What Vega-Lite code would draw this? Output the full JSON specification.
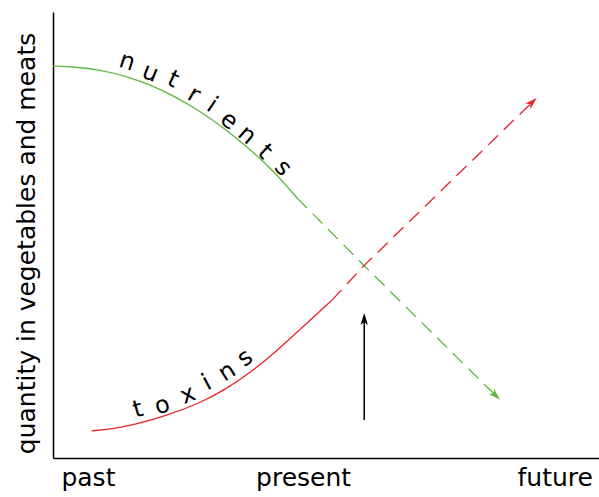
{
  "$schema": "https://vega.github.io/schema/vega-lite/v6.json",
  "width": 546,
  "height": 446,
  "autosize": {"type": "none"},
  "padding": {"left": 53, "top": 12, "right": 0, "bottom": 39},
  "config": {"view": {"stroke": null}, "font": "DejaVu Sans"},
  "datasets": {
    "curves": [
      {"curve": "nutrients", "part": "solid", "i": 0, "x": 0.00, "y": 8.79},
      {"curve": "nutrients", "part": "solid", "i": 1, "x": 0.40, "y": 8.77},
      {"curve": "nutrients", "part": "solid", "i": 2, "x": 0.86, "y": 8.70},
      {"curve": "nutrients", "part": "solid", "i": 3, "x": 1.32, "y": 8.57},
      {"curve": "nutrients", "part": "solid", "i": 4, "x": 1.78, "y": 8.37},
      {"curve": "nutrients", "part": "solid", "i": 5, "x": 2.23, "y": 8.11},
      {"curve": "nutrients", "part": "solid", "i": 6, "x": 2.69, "y": 7.78},
      {"curve": "nutrients", "part": "solid", "i": 7, "x": 3.15, "y": 7.38},
      {"curve": "nutrients", "part": "solid", "i": 8, "x": 3.61, "y": 6.92},
      {"curve": "nutrients", "part": "solid", "i": 9, "x": 4.07, "y": 6.40},
      {"curve": "nutrients", "part": "solid", "i": 10, "x": 4.47, "y": 5.83},
      {"curve": "toxins", "part": "solid", "i": 0, "x": 0.71, "y": 0.61},
      {"curve": "toxins", "part": "solid", "i": 1, "x": 1.08, "y": 0.65},
      {"curve": "toxins", "part": "solid", "i": 2, "x": 1.47, "y": 0.74},
      {"curve": "toxins", "part": "solid", "i": 3, "x": 2.08, "y": 0.95},
      {"curve": "toxins", "part": "solid", "i": 4, "x": 2.69, "y": 1.23},
      {"curve": "toxins", "part": "solid", "i": 5, "x": 3.15, "y": 1.53},
      {"curve": "toxins", "part": "solid", "i": 6, "x": 3.61, "y": 1.91},
      {"curve": "toxins", "part": "solid", "i": 7, "x": 4.07, "y": 2.37},
      {"curve": "toxins", "part": "solid", "i": 8, "x": 4.52, "y": 2.88},
      {"curve": "toxins", "part": "solid", "i": 9, "x": 5.11, "y": 3.54},
      {"curve": "nutrients", "part": "dashed", "i": 0, "x": 4.47, "y": 5.83},
      {"curve": "nutrients", "part": "dashed", "i": 1, "x": 5.71, "y": 4.30},
      {"curve": "nutrients", "part": "dashed", "i": 2, "x": 8.10, "y": 1.41},
      {"curve": "toxins", "part": "dashed", "i": 0, "x": 5.11, "y": 3.54},
      {"curve": "toxins", "part": "dashed", "i": 1, "x": 5.71, "y": 4.33},
      {"curve": "toxins", "part": "dashed", "i": 2, "x": 8.77, "y": 7.97},
      {"curve": "pointer", "part": "pointer", "i": 0, "x": 5.70, "y": 0.85},
      {"curve": "pointer", "part": "pointer", "i": 1, "x": 5.70, "y": 3.10}
    ],
    "heads": [
      {"curve": "nutrients", "x": 8.10, "y": 1.41, "heading": 135},
      {"curve": "toxins", "x": 8.77, "y": 7.97, "heading": 46},
      {"curve": "pointer", "x": 5.70, "y": 3.10, "heading": 0}
    ],
    "letters": [
      {"word": "nutrients", "letter": "n", "x": 1.36, "y": 8.88, "rot": 18},
      {"word": "nutrients", "letter": "u", "x": 1.78, "y": 8.63, "rot": 22},
      {"word": "nutrients", "letter": "t", "x": 2.20, "y": 8.48, "rot": 26},
      {"word": "nutrients", "letter": "r", "x": 2.58, "y": 8.14, "rot": 30},
      {"word": "nutrients", "letter": "i", "x": 2.91, "y": 7.91, "rot": 34},
      {"word": "nutrients", "letter": "e", "x": 3.22, "y": 7.56, "rot": 38},
      {"word": "nutrients", "letter": "n", "x": 3.55, "y": 7.24, "rot": 41},
      {"word": "nutrients", "letter": "t", "x": 3.88, "y": 6.86, "rot": 44},
      {"word": "nutrients", "letter": "s", "x": 4.21, "y": 6.50, "rot": 47},
      {"word": "toxins", "letter": "t", "x": 1.56, "y": 1.08, "rot": -16},
      {"word": "toxins", "letter": "o", "x": 2.00, "y": 1.17, "rot": -18},
      {"word": "toxins", "letter": "x", "x": 2.47, "y": 1.41, "rot": -22},
      {"word": "toxins", "letter": "i", "x": 2.82, "y": 1.68, "rot": -28},
      {"word": "toxins", "letter": "n", "x": 3.19, "y": 1.93, "rot": -32},
      {"word": "toxins", "letter": "s", "x": 3.52, "y": 2.24, "rot": -36}
    ]
  },
  "layer": [
    {
      "data": {"name": "curves"},
      "transform": [{"filter": "datum.part === 'solid'"}],
      "mark": {"type": "line", "strokeWidth": 1.3, "interpolate": "basis"},
      "encoding": {
        "x": {
          "field": "x", "type": "quantitative",
          "scale": {"domain": [0, 10], "nice": false, "zero": false},
          "axis": {
            "values": [0.64, 4.58, 9.19],
            "labelExpr": "datum.value < 2 ? 'past' : (datum.value < 7 ? 'present' : 'future')",
            "ticks": false, "grid": false, "title": null,
            "labelFontSize": 25, "labelPadding": 7, "labelColor": "black",
            "labelFlush": false, "labelOverlap": false,
            "domainColor": "black", "domainWidth": 1.5
          }
        },
        "y": {
          "field": "y", "type": "quantitative",
          "scale": {"domain": [0, 10], "nice": false, "zero": false},
          "axis": {
            "labels": false, "ticks": false, "grid": false,
            "title": "quantity in vegetables and meats",
            "titleFontSize": 25, "titleFontWeight": "normal", "titleColor": "black",
            "titlePadding": 14, "titleY": 231,
            "domainColor": "black", "domainWidth": 1.5
          }
        },
        "color": {
          "field": "curve", "type": "nominal",
          "scale": {"domain": ["nutrients", "toxins", "pointer"], "range": ["#5cb83c", "#e8232a", "#000000"]},
          "legend": null
        },
        "order": {"field": "i", "type": "quantitative"}
      }
    },
    {
      "data": {"name": "curves"},
      "transform": [{"filter": "datum.part === 'dashed'"}],
      "mark": {"type": "line", "strokeWidth": 1.3, "strokeDash": [14, 8]},
      "encoding": {
        "x": {"field": "x", "type": "quantitative"},
        "y": {"field": "y", "type": "quantitative"},
        "color": {"field": "curve", "type": "nominal", "legend": null},
        "order": {"field": "i", "type": "quantitative"}
      }
    },
    {
      "data": {"name": "curves"},
      "transform": [{"filter": "datum.part === 'pointer'"}],
      "mark": {"type": "line", "strokeWidth": 1.5},
      "encoding": {
        "x": {"field": "x", "type": "quantitative"},
        "y": {"field": "y", "type": "quantitative"},
        "color": {"field": "curve", "type": "nominal", "legend": null},
        "order": {"field": "i", "type": "quantitative"}
      }
    },
    {
      "data": {"name": "heads"},
      "mark": {"type": "point", "filled": true, "opacity": 1, "size": 180, "shape": "M0,-1L0.55,0.8L0,0.35L-0.55,0.8Z"},
      "encoding": {
        "x": {"field": "x", "type": "quantitative"},
        "y": {"field": "y", "type": "quantitative"},
        "color": {"field": "curve", "type": "nominal", "legend": null},
        "angle": {"field": "heading", "type": "quantitative", "scale": null}
      }
    },
    {
      "data": {"name": "letters"},
      "mark": {"type": "text", "fontSize": 24, "color": "black", "align": "center", "baseline": "middle"},
      "encoding": {
        "x": {"field": "x", "type": "quantitative"},
        "y": {"field": "y", "type": "quantitative"},
        "text": {"field": "letter"},
        "angle": {"field": "rot", "type": "quantitative", "scale": null}
      }
    }
  ]
}
